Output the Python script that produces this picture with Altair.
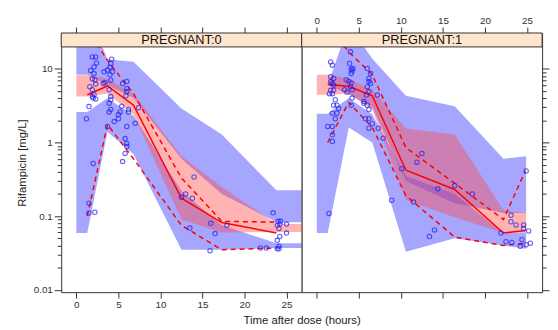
import altair as alt
import pandas as pd

FONT = "Liberation Sans"
TIME_TICKS = [0, 5, 10, 15, 20, 25]
CONC_MAJOR = [0.01, 0.1, 1, 10]
CONC_MINOR = [0.02, 0.03, 0.04, 0.05, 0.06, 0.07, 0.08, 0.09,
              0.2, 0.3, 0.4, 0.5, 0.6, 0.7, 0.8, 0.9,
              2, 3, 4, 5, 6, 7, 8, 9]
TIME_DOMAIN = [-1.8, 26.8]
PLOT_TOP = 19.8      # upper limit of the concentration axis
CONC_DOMAIN = [0.0093, 30.6]   # includes the strip band above PLOT_TOP

# ---------------- PREGNANT:0 ----------------
p0_band_x = [0, 1.3, 3.7, 6.8, 12.5, 17.3, 23.8, 28]
p0_lo_lo = [0.059, 0.059, 1.4, 0.69, 0.035, 0.035, 0.037, 0.037]
p0_lo_hi = [2.6, 2.6, 4.0, 2.3, 0.22, 0.075, 0.043, 0.043]
p0_md_lo = [4.2, 4.2, 4.6, 2.4, 0.09, 0.06, 0.061, 0.061]
p0_md_hi = [8.2, 8.2, 7.3, 4.6, 0.65, 0.25, 0.078, 0.078]
p0_up_lo = [8.3, 8.3, 6.0, 4.0, 0.6, 0.2, 0.083, 0.083]
p0_up_hi = [60, 60, 13.5, 12.5, 2.9, 1.28, 0.224, 0.224]

p0_line_x = [1.3, 3.7, 6.8, 12.5, 17.3, 23.8]
p0_median = [4.45, 5.85, 3.2, 0.175, 0.082, 0.059]
p0_p05 = [0.10, 1.75, 0.6, 0.075, 0.035, 0.037]
p0_p95 = [35, 13, 4.6, 0.33, 0.085, 0.083]

p0_obs_t = [1.9, 2.3, 2.1, 2.1, 1.9, 2.2, 1.6, 1.9, 2.1, 1.9, 2.3, 1.5, 1.2, 2.0, 1.5, 1.5, 2.2,
            2.4, 1.7, 2.3, 2.0,
            3.3, 3.7, 4.1, 4.3, 4.0, 3.2, 3.4, 4.1, 3.9, 4.1, 4.1, 3.9, 4.1, 3.9, 3.7, 4.5, 4.0, 4.2,
            5.5, 6.0, 6.0, 6.0, 5.4, 5.2, 5.0, 5.0, 6.2, 6.0, 5.8, 6.0, 6.0, 5.8, 5.5, 7.0, 7.4, 6.2, 5.9,
            12.5, 13.0, 14.0, 13.8, 13.5,
            16.0, 16.5, 15.9, 17.9,
            21.9, 22.6, 23.4, 24.0, 24.3, 24.2, 23.9, 24.1, 24.2, 23.9, 24.1, 24.1, 23.9, 25.0, 25.0]
p0_obs_c = [14.5, 14.5, 10.6, 8.6, 7.3, 7.1, 5.7, 5.2, 4.45, 4.2, 3.9, 3.07, 2.1, 0.52, 0.15, 0.11, 0.113,
            12.0, 9.5, 6.2, 4.0,
            9.1, 9.6, 11.8, 9.1, 8.3, 6.3, 6.5, 7.0, 5.2, 4.2, 3.8, 3.4, 2.8, 2.6, 1.65, 1.92, 10.5, 13.5,
            6.3, 6.7, 5.4, 4.9, 3.1, 2.6, 2.4, 2.1, 2.6, 1.65, 1.13, 0.97, 0.88, 0.71, 0.55, 1.82, 2.97, 2.8, 4.3,
            0.18, 0.2, 0.34, 0.175, 0.069,
            0.08, 0.058, 0.034, 0.075,
            0.037, 0.037, 0.111, 0.085, 0.085, 0.078, 0.075, 0.068, 0.053, 0.047, 0.039, 0.036, 0.036, 0.078, 0.059]

# ---------------- PREGNANT:1 ----------------
p1_band_x = [0, 1.3, 3.8, 6.6, 10.6, 16.4, 22.2, 24.9]
p1_lo_lo = [0.059, 0.059, 1.6, 1.0, 0.033, 0.05, 0.04, 0.036]
p1_lo_hi = [2.46, 2.46, 4.0, 2.4, 0.35, 0.2, 0.059, 0.059]
p1_md_lo = [4.45, 4.45, 4.6, 2.8, 0.165, 0.097, 0.059, 0.059]
p1_md_hi = [8.3, 8.3, 7.3, 5.2, 1.55, 1.28, 0.12, 0.11]
p1_up_lo = [6.0, 6.0, 4.5, 3.0, 0.3, 0.15, 0.11, 0.11]
p1_up_hi = [6.0, 6.0, 40, 13.7, 4.3, 3.1, 0.6, 0.65]

p1_line_x = [1.3, 3.8, 6.6, 10.6, 16.4, 22.2, 24.8]
p1_median = [6.1, 5.8, 4.3, 0.42, 0.23, 0.059, 0.064]
p1_p05 = [1.0, 3.5, 1.6, 0.19, 0.052, 0.040, 0.043]
p1_p95 = [40, 17, 8.3, 0.85, 0.28, 0.09, 0.41]

p1_obs_t = [1.65, 1.85, 1.65, 2.0, 1.65, 1.85, 2.0, 1.65, 2.0, 1.5, 1.85, 2.2, 2.0, 1.85, 2.2, 1.3, 1.85, 1.85, 1.85, 1.45,
            4.0, 3.9, 4.1, 4.2, 4.1, 4.3, 3.5, 3.8, 4.1, 4.0, 4.2, 3.3, 3.6, 4.2, 4.1, 2.4, 2.6, 2.4,
            6.0, 6.4, 6.2, 6.2, 6.4, 6.0, 6.2, 5.9, 7.2, 5.6, 6.0, 5.6, 6.2, 5.8, 6.2, 6.6, 6.2, 7.3, 7.9,
            10.1, 11.9, 12.5, 8.9, 11.5, 14.0, 13.4, 14.4,
            16.4, 18.5,
            23.1, 23.1, 23.7, 24.6, 24.6, 25.2, 21.9, 22.5, 23.2, 24.2, 24.9, 25.4, 24.4, 24.9]
p1_obs_c = [12.4, 11.2, 7.8, 7.4, 6.7, 6.3, 6.0, 5.1, 5.1, 4.6, 4.6, 3.8, 3.2, 2.5, 2.1, 1.65, 1.65, 1.27, 1.03, 0.109,
            17, 11.8, 9.9, 9.3, 8.6, 10.1, 7.1, 6.8, 6.4, 5.7, 5.2, 5.2, 4.8, 4.0, 3.2, 3.2, 2.9, 2.5,
            10.1, 8.6, 7.4, 6.7, 6.3, 5.7, 4.9, 4.4, 4.4, 3.6, 3.2, 3.4, 2.8, 2.1, 2.1, 1.8, 1.56, 1.56, 1.14,
            0.44, 0.54, 0.71, 0.165, 0.156, 0.065, 0.053, 0.235,
            0.26, 0.2,
            0.103, 0.084, 0.076, 0.076, 0.068, 0.063, 0.059, 0.045, 0.044, 0.039, 0.041, 0.043, 0.048, 0.41]

W = 244
H = 263
MAJOR_TEST = "datum.value == 0.01 || datum.value == 0.1 || datum.value == 1 || datum.value == 10"
LABEL_EXPR = ("datum.value == 10 ? '10' : datum.value == 1 ? '1' : "
              "datum.value == 0.1 ? '0.1' : datum.value == 0.01 ? '0.01' : ''")

xscale = alt.Scale(domain=TIME_DOMAIN, nice=False, zero=False)
yscale = alt.Scale(type="log", domain=CONC_DOMAIN, nice=False)

BLUE = "#4646FF"
PINK = "#FF4A4A"
RED = "#FF0000"
PTS = "#2020F0"
AXC = "#333333"
TICK_FS = 10
TITLE_FS = 11.5


def x_axis_bottom(labels, title):
    kw = dict(orient="bottom", values=TIME_TICKS, grid=False, domain=False, tickSize=6,
              tickColor=AXC, labels=labels, labelFontSize=TICK_FS, labelColor=AXC,
              labelPadding=2, labelFont=FONT)
    if title:
        kw.update(title=title, titleX=W, titleFontSize=TITLE_FS, titleFontWeight="normal",
                  titleColor="#222", titleFont=FONT, titlePadding=5)
    else:
        kw.update(title=None)
    return alt.Axis(**kw)


def x_axis_top(labels):
    return alt.Axis(orient="top", values=TIME_TICKS, grid=False, domain=False, tickSize=6,
                    tickColor=AXC, labels=labels, labelFontSize=TICK_FS, labelColor=AXC,
                    labelPadding=2, labelFont=FONT, title=None)


def y_axis(left):
    kw = dict(orient="left" if left else "right", values=CONC_MAJOR + CONC_MINOR, grid=False,
              domain=False, tickColor=AXC,
              tickSize={"condition": {"test": MAJOR_TEST, "value": 7}, "value": 4},
              labelOverlap=False)
    if left:
        kw.update(labelExpr=LABEL_EXPR, labelFontSize=TICK_FS, labelColor=AXC, labelPadding=2,
                  labelFont=FONT, title="Rifampicin [mg/L]", titleFontSize=TITLE_FS,
                  titleFontWeight="normal", titleColor="#222", titleFont=FONT, titlePadding=6)
    else:
        kw.update(labels=False, title=None)
    return alt.Axis(**kw)


def band_frame(xs, lo, hi, name):
    return pd.DataFrame({"t": xs, "lo": lo, "hi": hi, "band": name})


def panel(label, bx, lo_lo, lo_hi, md_lo, md_hi, up_lo, up_hi, lx, med, p05, p95, ot, oc, left):
    xb = x_axis_bottom(left, "Time after dose (hours)" if left else None)
    ya = y_axis(left)
    X = alt.X("t:Q", scale=xscale, axis=xb)

    blue_df = pd.concat([band_frame(bx, lo_lo, lo_hi, "lower"),
                         band_frame(bx, up_lo, up_hi, "upper")])
    pink_df = band_frame(bx, md_lo, md_hi, "median")
    blue = alt.Chart(blue_df).mark_area(clip=True, color=BLUE, opacity=0.48).encode(
        x=X, y=alt.Y("lo:Q", scale=yscale, axis=ya), y2="hi:Q", detail="band:N")
    pink = alt.Chart(pink_df).mark_area(clip=True, color=PINK, opacity=0.42).encode(
        x=X, y=alt.Y("lo:Q", scale=yscale, axis=ya), y2="hi:Q")

    lines_df = pd.concat([
        pd.DataFrame({"t": lx, "c": p05, "stat": "p05"}),
        pd.DataFrame({"t": lx, "c": p95, "stat": "p95"}),
    ])
    dashed = alt.Chart(lines_df).mark_line(clip=True, color=RED, strokeWidth=1.5,
                                           strokeDash=[5, 4]).encode(
        x=X, y=alt.Y("c:Q", scale=yscale, axis=ya), detail="stat:N")
    median = alt.Chart(pd.DataFrame({"t": lx, "c": med})).mark_line(
        clip=True, color=RED, strokeWidth=1.5).encode(
        x=X, y=alt.Y("c:Q", scale=yscale, axis=ya))
    pts = alt.Chart(pd.DataFrame({"t": ot, "c": oc})).mark_point(
        clip=True, shape="circle", filled=False, size=20, strokeWidth=1.1, color=PTS).encode(
        x=X, y=alt.Y("c:Q", scale=yscale, axis=ya))

    # strip (panel header) across the top of the panel
    strip_df = pd.DataFrame({"t0": [TIME_DOMAIN[0]], "t1": [TIME_DOMAIN[1]],
                             "c0": [PLOT_TOP], "c1": [CONC_DOMAIN[1]],
                             "tm": [sum(TIME_DOMAIN) / 2],
                             "cm": [(PLOT_TOP * CONC_DOMAIN[1]) ** 0.5],
                             "label": [label]})
    strip_rect = alt.Chart(strip_df).mark_rect(fill="#FFE5CC", stroke=AXC, strokeWidth=1).encode(
        x=alt.X("t0:Q", scale=xscale, axis=x_axis_top(not left)), x2="t1:Q",
        y=alt.Y("c0:Q", scale=yscale, axis=ya), y2="c1:Q")
    strip_text = alt.Chart(strip_df).mark_text(font=FONT, fontSize=13, color="#111",
                                               dy=0.5).encode(
        x=alt.X("tm:Q", scale=xscale, axis=x_axis_top(not left)),
        y=alt.Y("cm:Q", scale=yscale, axis=ya), text="label:N")

    bottom_part = alt.layer(blue, pink, dashed, median, pts)
    top_part = alt.layer(strip_rect, strip_text)
    return alt.layer(bottom_part, top_part).resolve_axis(x="independent").properties(
        width=W, height=H, view=alt.ViewBackground(fill="white", stroke=AXC))


left_panel = panel("PREGNANT:0", p0_band_x, p0_lo_lo, p0_lo_hi, p0_md_lo, p0_md_hi, p0_up_lo,
                   p0_up_hi, p0_line_x, p0_median, p0_p05, p0_p95, p0_obs_t, p0_obs_c, True)
right_panel = panel("PREGNANT:1", p1_band_x, p1_lo_lo, p1_lo_hi, p1_md_lo, p1_md_hi, p1_up_lo,
                    p1_up_hi, p1_line_x, p1_median, p1_p05, p1_p95, p1_obs_t, p1_obs_c, False)

chart = alt.hconcat(left_panel, right_panel, spacing=0, bounds="flush").properties(
    padding={"left": 8, "top": 4, "right": 0, "bottom": 0}
).configure(font=FONT)

chart.save("out.html", embed_options={"renderer": "svg", "actions": False})
